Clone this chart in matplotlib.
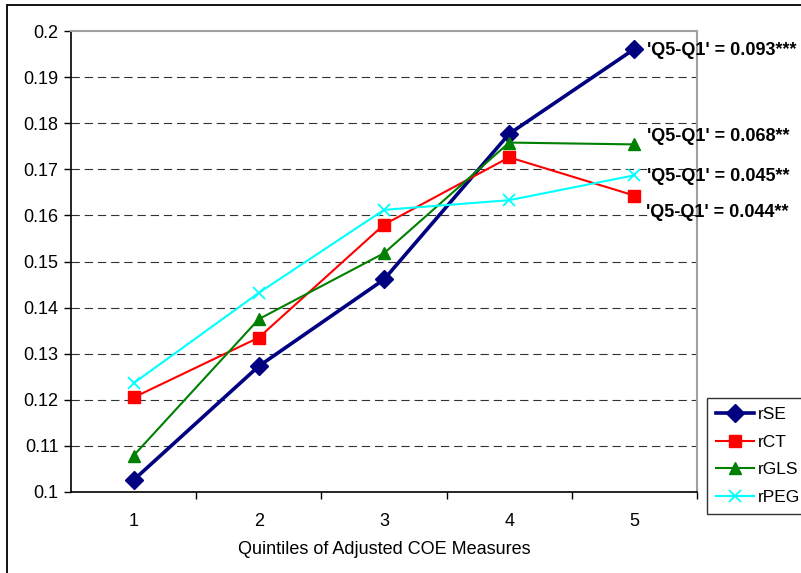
import matplotlib
matplotlib.use("Agg")
import matplotlib.pyplot as plt
from matplotlib.patches import Rectangle

plt.rcParams["font.family"] = ["Liberation Sans", "DejaVu Sans"]
plt.rcParams["lines.scale_dashes"] = False

# === Datos ===
quintiles = [1, 2, 3, 4, 5]
rSE = [0.1026, 0.1273, 0.1461, 0.1777, 0.1961]
rCT = [0.1205, 0.1335, 0.1580, 0.1726, 0.1643]
rGLS = [0.1079, 0.1375, 0.1518, 0.1758, 0.1754]
rPEG = [0.1236, 0.1432, 0.1612, 0.1633, 0.1687]
labels_q5q1 = ["'Q5-Q1' = 0.093***", "'Q5-Q1' = 0.044**",
               "'Q5-Q1' = 0.068**", "'Q5-Q1' = 0.045**"]
y_ticks = [0.1, 0.11, 0.12, 0.13, 0.14, 0.15, 0.16, 0.17, 0.18, 0.19, 0.2]
y_tick_labels = ["0.1", "0.11", "0.12", "0.13", "0.14", "0.15",
                 "0.16", "0.17", "0.18", "0.19", "0.2"]

fig = plt.figure(figsize=(8.01, 5.73), dpi=100)
ax = fig.add_axes([71 / 801, 1 - 492 / 573, (697 - 71) / 801, (492 - 31) / 573])

# marco exterior del gráfico
fig.patches.append(Rectangle((7 / 801, -0.05), 1.1, 1 - 5 / 573 + 0.05,
                             transform=fig.transFigure, fill=False,
                             edgecolor="black", linewidth=1.3))

series = [
    ("rSE", rSE, "#000080", "D", 9.5, 2.6),
    ("rCT", rCT, "#FF0000", "s", 8, 1.5),
    ("rGLS", rGLS, "#008000", "^", 9, 1.5),
    ("rPEG", rPEG, "#00FFFF", "x", 9, 1.5),
]
for name, vals, color, marker, ms, lw in series:
    ax.plot(quintiles, vals, color=color, marker=marker, markersize=ms,
            linewidth=lw, markeredgewidth=1.3 if marker == "x" else 1,
            markeredgecolor=color, label=name, zorder=3)

# === Anotaciones Q5-Q1 ===
offsets = {"rSE": (9, -1), "rCT": (8, -12), "rGLS": (9, 6), "rPEG": (9, -1)}
for (name, vals, color, marker, ms, lw), txt in zip(series, labels_q5q1):
    ax.annotate(txt, xy=(quintiles[-1], vals[-1]), xytext=offsets[name],
                textcoords="offset points", ha="left", va="center",
                fontsize=13, fontweight="bold", annotation_clip=False)

ax.set_xlim(0.5, 5.5)
ax.set_ylim(0.1, 0.2)
ax.set_yticks(y_ticks)
ax.set_yticklabels(y_tick_labels)
ax.set_xticks([1.5, 2.5, 3.5, 4.5, 5.5])
ax.set_xticklabels([])
ax.set_xticks(quintiles, minor=True)
ax.set_xticklabels([str(q) for q in quintiles], minor=True)
ax.tick_params(axis="x", which="minor", length=0, pad=15, labelsize=13)
ax.tick_params(axis="x", which="major", direction="out", length=5, width=1)
ax.tick_params(axis="y", direction="out", length=5, width=1, labelsize=13, pad=4)

for y in y_ticks[1:-1]:
    ax.axhline(y, color="#333333", linewidth=0.8, dashes=(6, 3.5), zorder=1)

ax.spines["left"].set_color("black")
ax.spines["bottom"].set_color("black")
ax.spines["left"].set_linewidth(1.2)
ax.spines["bottom"].set_linewidth(1.2)
ax.spines["top"].set_color("#A0A0A0")
ax.spines["right"].set_color("#A0A0A0")
ax.spines["top"].set_linewidth(1.5)
ax.spines["right"].set_linewidth(1.5)

ax.set_xlabel("Quintiles of Adjusted COE Measures", fontsize=13, labelpad=8)

leg = ax.legend(loc="upper left", bbox_to_anchor=(707 / 801, 1 - 398 / 573),
                bbox_transform=fig.transFigure, fontsize=12.5, frameon=True,
                fancybox=False, edgecolor="black", handlelength=2.2,
                labelspacing=0.73, borderpad=0.5, handletextpad=0.25,
                borderaxespad=0)
leg.get_frame().set_linewidth(1)

fig.savefig("out.png", dpi=100)
